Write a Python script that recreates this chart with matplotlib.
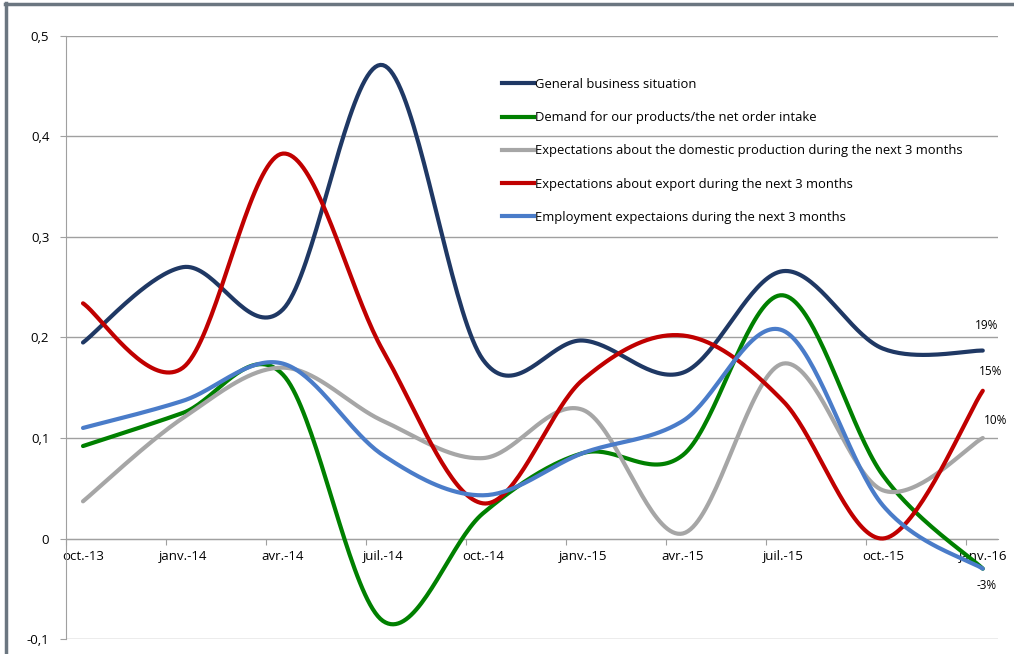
import numpy as np
import matplotlib
matplotlib.use("Agg")
import matplotlib.pyplot as plt
from matplotlib.lines import Line2D

plt.rcParams.update({
    "font.family": ["Open Sans", "DejaVu Sans"],
    "font.size": 9,
})

# ── Data ──────────────────────────────────────────────────────────────────────
quarters = ["oct.-13", "janv.-14", "avr.-14", "juil.-14", "oct.-14",
            "janv.-15", "avr.-15", "juil.-15", "oct.-15", "janv.-16"]

general = [0.195, 0.270, 0.228, 0.471, 0.178, 0.197, 0.165, 0.266, 0.189, 0.187]
demand = [0.092, 0.125, 0.163, -0.082, 0.025, 0.085, 0.083, 0.242, 0.063, -0.030]
domestic = [0.037, 0.120, 0.170, 0.117, 0.080, 0.128, 0.005, 0.174, 0.048, 0.100]
export = [0.234, 0.170, 0.383, 0.187, 0.035, 0.158, 0.202, 0.137, 0.000, 0.147]
employment = [0.110, 0.137, 0.174, 0.083, 0.043, 0.085, 0.117, 0.207, 0.033, -0.030]

series_names = [
    "General business situation",
    "Demand for our products/the net order intake",
    "Expectations about the domestic production during the next 3 months",
    "Expectations about export during the next 3 months",
    "Employment expectaions during the next 3 months",
]
series_colors = ["#1F3864", "#008000", "#A6A6A6", "#C00000", "#4A7CC9"]


def smooth(x, y, n=40):
    """Excel-style smoothed line (Catmull-Rom as cubic Bezier)."""
    x = np.asarray(x, float)
    y = np.asarray(y, float)
    px = np.concatenate([[x[0]], x, [x[-1]]])
    py = np.concatenate([[y[0]], y, [y[-1]]])
    t = np.linspace(0, 1, n)[:, None]
    xs, ys = [], []
    for i in range(len(x) - 1):
        p0 = np.array([x[i], y[i]])
        p3 = np.array([x[i + 1], y[i + 1]])
        p1 = p0 + (np.array([px[i + 2], py[i + 2]]) - np.array([px[i], py[i]])) / 6
        p2 = p3 - (np.array([px[i + 3], py[i + 3]]) - np.array([px[i + 1], py[i + 1]])) / 6
        b = ((1 - t) ** 3) * p0 + 3 * ((1 - t) ** 2) * t * p1 \
            + 3 * (1 - t) * t ** 2 * p2 + t ** 3 * p3
        xs.append(b[:, 0])
        ys.append(b[:, 1])
    return np.concatenate(xs), np.concatenate(ys)


# ── Figure ────────────────────────────────────────────────────────────────────
fig = plt.figure(figsize=(10.14, 6.54), dpi=100)
ax = fig.add_axes([0.0651, 0.0229, 0.9189, 0.9221])

offset = 0.17
xpos = np.arange(len(quarters)) + offset
all_series = [general, demand, domestic, export, employment]

for vals, col in zip(all_series, series_colors):
    sx, sy = smooth(xpos, vals)
    ax.plot(sx, sy, color=col, linewidth=3, solid_capstyle="round", zorder=3)

ax.set_xlim(0, 9.32)
ax.set_ylim(-0.1, 0.5)

# y axis
yt = np.round(np.arange(-0.1, 0.51, 0.1), 1)
ax.set_yticks(yt)
ax.set_yticklabels([("0" if v == 0 else f"{v:.1f}".replace(".", ",")) for v in yt],
                   fontsize=9.5)
ax.yaxis.grid(True, color="#A0A0A0", linewidth=1)
ax.set_axisbelow(True)

# x axis crossing at 0
for s in ["top", "right"]:
    ax.spines[s].set_visible(False)
ax.spines["bottom"].set_position(("data", 0))
ax.spines["bottom"].set_color("#A0A0A0")
ax.spines["left"].set_color("#A0A0A0")
ax.set_xticks(np.arange(len(quarters)))
ax.set_xticklabels([])
ax.set_xticks(xpos, minor=True)
ax.set_xticklabels(quarters, minor=True, fontsize=9.5)
ax.tick_params(axis="x", which="major", length=4, color="#A0A0A0")
ax.tick_params(axis="x", which="minor", length=0, pad=8)
ax.tick_params(axis="y", length=4, color="#A0A0A0", pad=8)

# end labels
lbl_pos = [(9.21, 0.212, "19%"), (9.25, 0.166, "15%"), (9.30, 0.117, "10%"),
           (9.21, -0.047, "-3%")]
for lx, ly, txt in lbl_pos:
    ax.text(lx, ly, txt, fontsize=8.5, ha="center", va="center", clip_on=False)

# legend
handles = [Line2D([0], [0], color=c, linewidth=3) for c in series_colors]
leg = ax.legend(handles, series_names, loc="upper left",
                bbox_to_anchor=(0.455, 0.95), frameon=False, fontsize=9.4,
                handlelength=2.5, handletextpad=0.05, labelspacing=1.55)

# outer frame
fig.add_artist(Line2D([0.006, 0.006], [0, 0.995], transform=fig.transFigure,
                      color="#6B7680", linewidth=2.5))
fig.add_artist(Line2D([0.005, 1], [0.994, 0.994], transform=fig.transFigure,
                      color="#6B7680", linewidth=2.5))

fig.savefig("out.png", dpi=100)
